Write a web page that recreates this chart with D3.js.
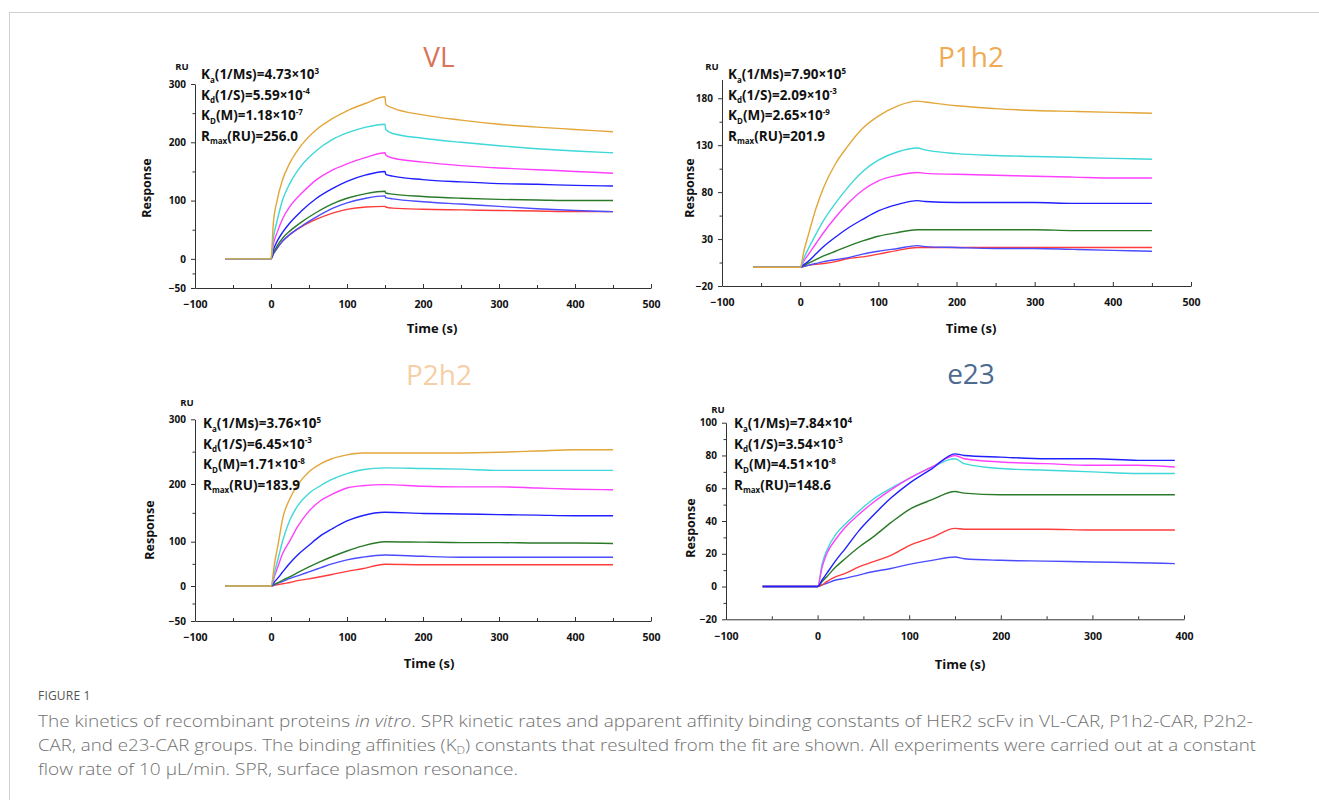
<!DOCTYPE html>
<html>
<head>
<meta charset="utf-8">
<script src="https://cdn.jsdelivr.net/npm/d3@7"></script>
<style>
  body { margin: 0; background: #fff; }
  svg text { font-family: "Open Sans", "Noto Sans", sans-serif; }
</style>
</head>
<body>
<div id="canvas"></div>
<script>
// ---- data (RU vs time in s) ----
const lineColors = ["#e3a63a", "#3fd7d7", "#ff40ff", "#1f1fff", "#2a7a2a", "#4b4bff", "#ff3b3b"];

// VL
const vlTime = [-60, 0, 3, 8, 15, 25, 40, 60, 80, 100, 125, 150, 151, 160, 200, 250, 300, 350, 400, 450];
const vlOrange = [0, 0, 60, 100, 135, 165, 195, 222, 240, 254, 267, 278, 265, 259, 247, 238, 231, 226, 222, 218];
const vlCyan = [0, 0, 35, 65, 100, 130, 160, 186, 204, 216, 226, 231, 222, 215, 207, 200, 194, 189, 185, 182];
const vlMagenta = [0, 0, 25, 45, 68, 90, 112, 136, 152, 163, 174, 182, 178, 173, 166, 160, 156, 153, 150, 147];
const vlBlue = [0, 0, 15, 30, 45, 62, 82, 104, 120, 133, 144, 150, 145, 142, 136, 132, 129, 128, 126, 125];
const vlGreen = [0, 0, 10, 22, 35, 48, 63, 80, 94, 104, 112, 116, 113, 111, 107, 104, 102, 101, 100, 100];
const vlBlue2 = [0, 0, 8, 18, 30, 42, 56, 72, 86, 96, 104, 108, 105, 103, 98, 94, 90, 86, 83, 81];
const vlRed = [0, 0, 8, 18, 30, 42, 55, 68, 78, 85, 89, 90, 89, 87, 85, 84, 83, 82, 81, 81];

// P1h2
const p1Time = [-60, 0, 5, 10, 20, 30, 45, 60, 80, 100, 125, 150, 160, 200, 250, 300, 350, 400, 450];
const p1Orange = [0, 0, 18, 33, 62, 85, 110, 128, 148, 161, 172, 177, 176, 172, 169, 167, 166, 165, 164];
const p1Cyan = [0, 0, 10, 19, 35, 50, 68, 84, 102, 114, 123, 127, 125, 121, 119, 118, 117, 116, 115];
const p1Magenta = [0, 0, 7, 13, 25, 37, 53, 67, 82, 92, 98, 101, 100, 99, 98, 97, 96, 95, 95];
const p1Blue = [0, 0, 3, 6, 14, 22, 32, 41, 51, 60, 67, 71, 70, 69, 69, 69, 68, 68, 68];
const p1Green = [0, 0, 2, 4, 8, 12, 17, 22, 28, 33, 37, 40, 40, 40, 40, 40, 39, 39, 39];
const p1Blue2 = [0, 0, 1, 2, 4, 6, 8, 10, 14, 17, 20, 23, 22, 21, 20, 20, 19, 18, 17];
const p1Red = [0, 0, 1, 2, 3, 4, 6, 9, 11, 14, 18, 21, 21, 21, 21, 21, 21, 21, 21];

// P2h2
const p2Time = [-60, 0, 5, 10, 15, 25, 35, 50, 65, 80, 100, 120, 150, 200, 250, 300, 350, 400, 450];
const p2Orange = [0, 0, 55, 100, 138, 175, 198, 219, 231, 239, 245, 248, 248, 248, 248, 249, 251, 253, 253];
const p2Cyan = [0, 0, 33, 66, 100, 138, 162, 184, 197, 207, 216, 222, 225, 224, 223, 221, 221, 221, 221];
const p2Magenta = [0, 0, 24, 48, 72, 102, 126, 153, 171, 182, 193, 197, 199, 196, 195, 195, 193, 191, 190];
const p2Blue = [0, 0, 10, 20, 31, 52, 70, 92, 110, 122, 136, 145, 151, 149, 148, 147, 146, 145, 145];
const p2Green = [0, 0, 4, 8, 13, 21, 30, 43, 55, 66, 79, 90, 100, 99, 98, 98, 97, 97, 96];
const p2Blue2 = [0, 0, 3, 7, 10, 17, 23, 32, 41, 50, 59, 65, 70, 67, 65, 65, 65, 65, 65];
const p2Red = [0, 0, 2, 3, 5, 8, 12, 16, 21, 26, 33, 39, 49, 48, 48, 48, 48, 48, 48];

// e23
const e23Colors = ["#1f1fff", "#ff40ff", "#3fd7d7", "#2a7a2a", "#ff3b3b", "#4b4bff"];
const e23Time = [-60, 0, 5, 10, 20, 30, 45, 60, 80, 100, 125, 150, 160, 200, 250, 300, 350, 390];
const e23Blue = [0, 0, 4, 8, 16, 23, 34, 43, 54, 63, 72, 81, 80, 79, 78, 78, 77, 77];
const e23Magenta = [0, 0, 12, 20, 29, 36, 44, 51, 59, 66, 73, 80, 78, 76, 75, 74, 74, 73];
const e23Cyan = [0, 0, 14, 22, 32, 38, 46, 53, 60, 66, 73, 78, 75, 72, 71, 70, 69, 69];
const e23Green = [0, 0, 3, 6, 12, 17, 24, 30, 39, 47, 53, 58, 57, 56, 56, 56, 56, 56];
const e23Red = [0, 0, 1, 3, 6, 8, 12, 15, 19, 25, 30, 35.5, 35, 35, 35, 34.5, 34.5, 34.5];
const e23Blue2 = [0, 0, 1, 2, 4, 5, 7, 9, 11, 13.5, 16, 18, 17, 16, 15.5, 15, 14.5, 14];

// kinetic constants: [letter, subscript, text, superscript]
const vlKinetics = [["K", "a", "(1/Ms)=4.73×10", "3"], ["K", "d", "(1/S)=5.59×10", "-4"], ["K", "D", "(M)=1.18×10", "-7"], ["R", "max", "(RU)=256.0", ""]];
const p1Kinetics = [["K", "a", "(1/Ms)=7.90×10", "5"], ["K", "d", "(1/S)=2.09×10", "-3"], ["K", "D", "(M)=2.65×10", "-9"], ["R", "max", "(RU)=201.9", ""]];
const p2Kinetics = [["K", "a", "(1/Ms)=3.76×10", "5"], ["K", "d", "(1/S)=6.45×10", "-3"], ["K", "D", "(M)=1.71×10", "-8"], ["R", "max", "(RU)=183.9", ""]];
const e23Kinetics = [["K", "a", "(1/Ms)=7.84×10", "4"], ["K", "d", "(1/S)=3.54×10", "-3"], ["K", "D", "(M)=4.51×10", "-8"], ["R", "max", "(RU)=148.6", ""]];

// tick labels
const xTicks500 = [-100, 0, 100, 200, 300, 400, 500];
const xTicks400 = [-100, 0, 100, 200, 300, 400];
const vlYTicks = [-50, 0, 100, 200, 300];
const p1YTicks = [-20, 30, 80, 130, 180];
const p2YTicks = [-50, 0, 100, 200, 300];
const e23YTicks = [-20, 0, 20, 40, 60, 80, 100];

// ---- layout ----
const panels = [
  { name: "VL", color: "#d9735b", titleX: 439, titleY: 67,
    time: vlTime, series: [vlOrange, vlCyan, vlMagenta, vlBlue, vlGreen, vlBlue2, vlRed], colors: lineColors,
    xDomain: [-100, 500], xRange: [195, 651], xTicks: xTicks500,
    yDomain: [-50, 300], yRange: [288, 84], yTicks: vlYTicks,
    kin: vlKinetics, kinX: 201, kinY: 79, ru: [182, 70], resp: [147, 188], timeLbl: [432, 333] },
  { name: "P1h2", color: "#f0aa55", titleX: 971, titleY: 67,
    time: p1Time, series: [p1Orange, p1Cyan, p1Magenta, p1Blue, p1Green, p1Blue2, p1Red], colors: lineColors,
    xDomain: [-100, 500], xRange: [722, 1191], xTicks: xTicks500,
    yDomain: [-20, 200], yRange: [286, 79.5], yTicks: p1YTicks,
    kin: p1Kinetics, kinX: 728, kinY: 79, ru: [712, 70], resp: [690, 188], timeLbl: [971, 333] },
  { name: "P2h2", color: "#f6cfa6", titleX: 439, titleY: 385,
    time: p2Time, series: [p2Orange, p2Cyan, p2Magenta, p2Blue, p2Green, p2Blue2, p2Red], colors: lineColors,
    xDomain: [-100, 500], xRange: [195, 651], xTicks: xTicks500,
    yDomain: [-50, 0, 100, 200, 300], yRange: [621, 586, 541.7, 484, 419.3], yTicks: p2YTicks,
    kin: p2Kinetics, kinX: 203, kinY: 428, ru: [187, 406], resp: [150, 530], timeLbl: [429, 668] },
  { name: "e23", color: "#4d6a91", titleX: 971, titleY: 384,
    time: e23Time, series: [e23Blue, e23Magenta, e23Cyan, e23Green, e23Red, e23Blue2], colors: e23Colors,
    xDomain: [-100, 400], xRange: [726, 1184], xTicks: xTicks400,
    yDomain: [-20, 100], yRange: [619.3, 422.7], yTicks: e23YTicks,
    kin: e23Kinetics, kinX: 734, kinY: 428, ru: [718, 413], resp: [691, 528], timeLbl: [960, 669] }
];

const svg = d3.select("#canvas").append("svg").attr("width", 1319).attr("height", 800);

svg.append("rect")
  .attr("x", 9.5).attr("y", 12.5).attr("width", 1400).attr("height", 900)
  .attr("fill", "none").attr("stroke", "#cfcfcf");

function midpoints(arr) {
  const out = [];
  for (let i = 0; i < arr.length - 1; i++) out.push((arr[i] + arr[i + 1]) / 2);
  return out;
}

function styleAxis(sel) {
  sel.attr("font-family", "'Open Sans', sans-serif").attr("font-weight", "bold").attr("font-size", 10);
  sel.selectAll("path, line").attr("stroke", "#333");
  sel.selectAll("text").attr("fill", "#111");
}

function drawPanel(p) {
  const g = svg.append("g");
  const x = d3.scaleLinear().domain(p.xDomain).range(p.xRange);
  const y = d3.scaleLinear().domain(p.yDomain).range(p.yRange);
  const x0 = p.xRange[0], y0 = p.yRange[0];

  // y axis
  g.append("g").attr("transform", `translate(${x0},0)`)
    .call(d3.axisLeft(y).tickValues(p.yTicks).tickSize(4).tickSizeOuter(0).tickPadding(5).tickFormat(d3.format("d")))
    .call(styleAxis);
  g.append("g").attr("transform", `translate(${x0},0)`)
    .call(d3.axisLeft(y).tickValues(midpoints(p.yTicks)).tickSize(2.5).tickFormat(""))
    .call(s => s.select(".domain").remove())
    .call(styleAxis);

  // x axis, ticks pointing up
  g.append("g").attr("transform", `translate(0,${y0})`)
    .call(d3.axisBottom(x).tickValues(p.xTicks).tickSize(-4).tickSizeOuter(0).tickPadding(13).tickFormat(d3.format("d")))
    .call(styleAxis)
    .call(s => s.selectAll("text").attr("font-size", 10.5));
  g.append("g").attr("transform", `translate(0,${y0})`)
    .call(d3.axisBottom(x).tickValues(midpoints(p.xTicks)).tickSize(-3).tickFormat(""))
    .call(s => s.select(".domain").remove())
    .call(styleAxis);

  // sensorgrams
  const line = d3.line().x(d => x(d[0])).y(d => y(d[1])).curve(d3.curveMonotoneX);
  p.series.slice().reverse().forEach((vals, k) => {
    const i = p.series.length - 1 - k;
    g.append("path")
      .datum(p.time.map((t, j) => [t, vals[j]]))
      .attr("fill", "none")
      .attr("stroke", p.colors[i])
      .attr("stroke-width", 1.4)
      .attr("d", line);
  });

  // title
  g.append("text").attr("x", p.titleX).attr("y", p.titleY)
    .attr("text-anchor", "middle").attr("font-size", 28).attr("fill", p.color).text(p.name);

  // kinetics text
  p.kin.forEach((k, i) => {
    const t = g.append("text").attr("x", p.kinX).attr("y", p.kinY + i * 20.5)
      .attr("font-weight", "bold").attr("font-size", 13.5).attr("fill", "#111");
    t.append("tspan").text(k[0]);
    t.append("tspan").attr("font-size", 8).attr("dy", 3.5).text(k[1]);
    t.append("tspan").attr("dy", -3.5).text(k[2]);
    if (k[3]) t.append("tspan").attr("font-size", 8).attr("dy", -5.5).text(k[3]);
  });

  g.append("text").attr("x", p.ru[0]).attr("y", p.ru[1])
    .attr("text-anchor", "middle").attr("font-weight", "bold").attr("font-size", 9.5).attr("fill", "#111").text("RU");

  g.append("text").attr("transform", `translate(${p.resp[0]},${p.resp[1]}) rotate(-90)`)
    .attr("text-anchor", "middle").attr("dy", "0.35em")
    .attr("font-weight", "bold").attr("font-size", 12.5).attr("fill", "#111").text("Response");

  g.append("text").attr("x", p.timeLbl[0]).attr("y", p.timeLbl[1])
    .attr("text-anchor", "middle").attr("font-weight", "bold").attr("font-size", 13).attr("fill", "#111").text("Time (s)");
}

panels.forEach(drawPanel);

// caption
svg.append("text").attr("x", 38).attr("y", 700)
  .attr("font-size", 12).attr("fill", "#555").attr("letter-spacing", 0.2).text("FIGURE 1");

const capStyle = s => s.attr("x", 38).attr("font-size", 17).attr("font-weight", 300)
  .attr("fill", "#707070").attr("lengthAdjust", "spacingAndGlyphs");

const cap1 = svg.append("text").call(capStyle).attr("y", 727).attr("textLength", 1215);
cap1.append("tspan").text("The kinetics of recombinant proteins ");
cap1.append("tspan").attr("font-style", "italic").text("in vitro");
cap1.append("tspan").text(". SPR kinetic rates and apparent affinity binding constants of HER2 scFv in VL-CAR, P1h2-CAR, P2h2-");

const cap2 = svg.append("text").call(capStyle).attr("y", 751).attr("textLength", 1218);
cap2.append("tspan").text("CAR, and e23-CAR groups. The binding affinities (K");
cap2.append("tspan").attr("font-size", 11).attr("dy", 3).text("D");
cap2.append("tspan").attr("dy", -3).text(") constants that resulted from the fit are shown. All experiments were carried out at a constant");

svg.append("text").call(capStyle).attr("y", 775).attr("textLength", 480)
  .text("flow rate of 10 μL/min. SPR, surface plasmon resonance.");
</script>
</body>
</html>
